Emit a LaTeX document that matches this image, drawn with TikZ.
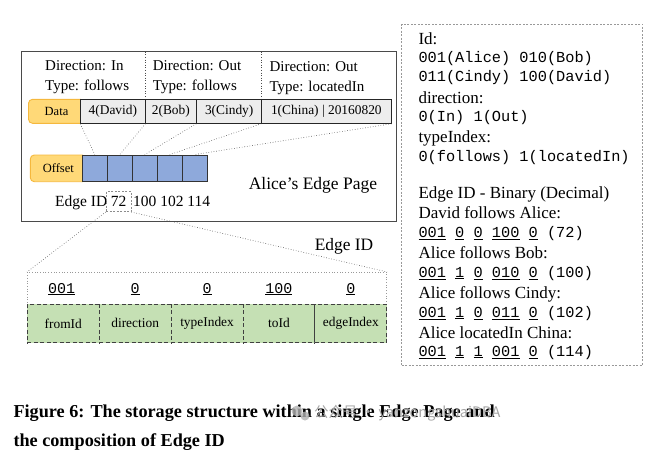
\documentclass[tikz,border=0pt]{standalone}
\usepackage{fontspec}
\setmainfont{Liberation Serif}
\setmonofont{Liberation Mono}
\newfontfamily\cjkfont{Noto Sans CJK SC}
\definecolor{labfill}{HTML}{FFD978}
\definecolor{labborder}{HTML}{F5B83D}
\definecolor{cellgray}{HTML}{EDEDED}
\definecolor{offblue}{HTML}{8EA9DB}
\definecolor{cellgreen}{HTML}{C5E0B4}
\definecolor{framegray}{HTML}{4A4A4A}
\begin{document}
\begin{tikzpicture}[x=1pt,y=-1pt,
  labbox/.style={draw=labborder, fill=labfill, rounded corners=4pt, line width=0.9pt, inner sep=0pt, font=\fontsize{12.5}{14}\selectfont},
  graycell/.style={draw=black!85, fill=cellgray, line width=0.9pt, inner sep=0pt, minimum height=24pt, font=\fontsize{13.4}{15}\selectfont},
  bluecell/.style={draw=black!80, fill=offblue, line width=0.9pt, inner sep=0pt, minimum width=25pt, minimum height=26.7pt},
  greencell/.style={draw=black!75, dashed, dash pattern=on 4pt off 2.5pt, fill=cellgreen, line width=0.9pt, inner sep=0pt, minimum width=71.9pt, minimum height=38.7pt, font=\fontsize{13.4}{15}\selectfont},
  dotline/.style={draw=black!70, dotted, line width=0.6pt},
  hdr/.style={anchor=base west, inner sep=0pt, font=\fontsize{15}{18}\selectfont},
  rtxt/.style={anchor=base west, inner sep=0pt, font=\fontsize{17}{20}\selectfont},
  rmono/.style={anchor=base west, inner sep=0pt, font=\fontsize{15.3}{18}\ttfamily},
  bit/.style={anchor=base, inner sep=0pt, font=\fontsize{15}{18}\ttfamily}]
\useasboundingbox (0,0) rectangle (652,451);

% main frame
\node[draw=framegray, line width=0.9pt, minimum width=374.3pt, minimum height=170pt, inner sep=0pt] (page) at (208.85,136.7) {};
\coordinate (d1t) at (145,51.7); \coordinate (d1b) at (145,99.3);
\coordinate (d2t) at (261.7,51.7); \coordinate (d2b) at (261.7,99.3);
\draw[dotline] (d1t) -- (d1b);
\draw[dotline] (d2t) -- (d2b);

% headers
\node[hdr] (h1a) at (45,70.8) {Direction: In};
\node[hdr] (h1b) at (45,90.2) {Type: follows};
\node[hdr] (h2a) at (152.7,70.8) {Direction: Out};
\node[hdr] (h2b) at (152.7,90.2) {Type: follows};
\node[hdr] (h3a) at (269.3,71.6) {Direction: Out};
\node[hdr] (h3b) at (269.3,91) {Type: locatedIn};

% data row
\node[labbox, minimum width=56pt, minimum height=24pt] (data) at (56.5,111.3) {Data};
\node[graycell, minimum width=64.3pt] (david) at (112.85,111.3) {4(David)};
\node[graycell, minimum width=51.7pt] (bob) at (170.85,111.3) {2(Bob)};
\node[graycell, minimum width=65pt] (cindy) at (229.2,111.3) {3(Cindy)};
\node[graycell, minimum width=129.3pt] (china) at (326.35,111.3) {1(China) | 20160820};

% offset row
\node[labbox, minimum width=56pt, minimum height=26.7pt] (offset) at (58.3,168.35) {Offset};
\node[bluecell] (o1) at (94.8,168.35) {};
\node[bluecell] (o2) at (119.8,168.35) {};
\node[bluecell] (o3) at (144.8,168.35) {};
\node[bluecell] (o4) at (169.8,168.35) {};
\node[bluecell] (o5) at (194.8,168.35) {};

\draw[dotline] (david.south west) -- (o1.north);
\draw[dotline] (david.south east) -- (o2.north);
\draw[dotline] (cindy.south west) -- (o3.north);
\draw[dotline] (china.south west) -- (o4.north);
\draw[dotline] (china.south east) -- (o5.north);

\node[inner sep=0pt, font=\fontsize{17.5}{20}\selectfont] (title) at (313,185.7) {Alice’s Edge Page};

% edge id row
\node[anchor=base west, inner sep=0pt, font=\fontsize{15.5}{18}\selectfont] (eidlab) at (55,206.8) {Edge ID};
\node[draw=black!45, dashed, dash pattern=on 2pt off 1.5pt, line width=0.6pt, minimum width=25pt, minimum height=20pt, inner sep=0pt, font=\fontsize{15.5}{18}\selectfont] (e72) at (118.5,201.7) {72};
\node[anchor=base west, inner sep=0pt, font=\fontsize{15.5}{18}\selectfont] (erest) at (133,206.8) {100 102 114};

% bottom: edge id composition
\node[draw=black!40, dotted, line width=0.7pt, minimum width=359.4pt, minimum height=31.7pt, inner sep=0pt] (bitbox) at (207,288.15) {};
\draw[dotline] (e72.south west) -- (bitbox.north west);
\draw[dotline] (e72.south east) -- (bitbox.north east);
\node[inner sep=0pt, font=\fontsize{17.4}{20}\selectfont] (eidtitle) at (344,246.7) {Edge ID};

\node[greencell] (g1) at (63.25,323.35) {fromId};
\node[greencell] (g2) at (135.15,323.35) {direction};
\node[greencell] (g3) at (207.05,323.35) {typeIndex};
\node[greencell] (g4) at (278.95,323.35) {toId};
\node[greencell] (g5) at (350.85,323.35) {edgeIndex};

\node[bit] (b1) at (61.7,293) {\underline{001}};
\node[bit] (b2) at (135.15,293) {\underline{0}};
\node[bit] (b3) at (207.05,293) {\underline{0}};
\node[bit] (b4) at (278.95,293) {\underline{100}};
\node[bit] (b5) at (350.85,293) {\underline{0}};

% right legend box
\node[draw=black!40, dashed, dash pattern=on 2pt off 1.5pt, line width=0.7pt, minimum width=241pt, minimum height=341pt, inner sep=0pt] (legend) at (522.2,194.5) {};
\node[rtxt] (l1) at (418.3,44.9) {Id:};
\node[rmono] (l2) at (418.3,62.2) {001(Alice) 010(Bob)};
\node[rmono] (l3) at (418.3,81.2) {011(Cindy) 100(David)};
\node[rtxt] (l4) at (418.3,103.9) {direction:};
\node[rmono] (l5) at (418.3,121.2) {0(In) 1(Out)};
\node[rtxt] (l6) at (418.3,142.3) {typeIndex:};
\node[rmono] (l7) at (418.3,161.2) {0(follows) 1(locatedIn)};
\node[rtxt] (l8) at (418.3,198.3) {Edge ID - Binary (Decimal)};
\node[rtxt] (l9) at (418.3,218.3) {David follows Alice:};
\node[rmono] (l10) at (418.3,237.2) {\underline{001} \underline{0} \underline{0} \underline{100} \underline{0} (72)};
\node[rtxt] (l11) at (418.3,258.9) {Alice follows Bob:};
\node[rmono] (l12) at (418.3,277.2) {\underline{001} \underline{1} \underline{0} \underline{010} \underline{0} (100)};
\node[rtxt] (l13) at (418.3,298.9) {Alice follows Cindy:};
\node[rmono] (l14) at (418.3,317.2) {\underline{001} \underline{1} \underline{0} \underline{011} \underline{0} (102)};
\node[rtxt] (l15) at (418.3,338.3) {Alice locatedIn China:};
\node[rmono] (l16) at (418.3,356.2) {\underline{001} \underline{1} \underline{1} \underline{001} \underline{0} (114)};

% caption
\node[anchor=base west, inner sep=0pt, font=\fontsize{18.2}{22}\bfseries] (cap1) at (13.3,417.8) {Figure 6: The storage structure within a single Edge Page and};
\node[anchor=base west, inner sep=0pt, font=\fontsize{18.2}{22}\bfseries] (cap2) at (13.3,446.2) {the composition of Edge ID};

% watermark
\fill[black!30, opacity=0.8] (297,411) circle (5.5pt);
\fill[black!30, opacity=0.8] (305,416) circle (4.5pt);
\node[anchor=west, inner sep=0pt, text=black!35, font=\fontsize{14.5}{16}\cjkfont] (wm) at (314,413) {公众号 · yanzongshuaiDBA};
\end{tikzpicture}
\end{document}
